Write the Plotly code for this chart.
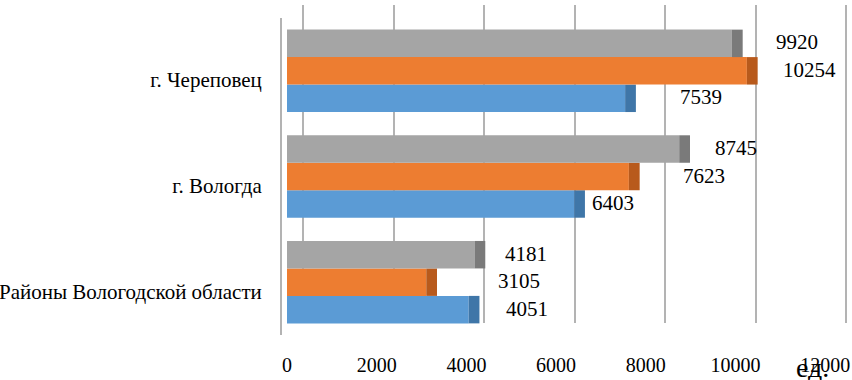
import plotly.graph_objects as go

categories = ["Районы Вологодской области", "г. Вологда", "г. Череповец"]
series_blue = [4051, 6403, 7539]
series_orange = [3105, 7623, 10254]
series_gray = [4181, 8745, 9920]
tick_vals = [0, 2000, 4000, 6000, 8000, 10000, 12000]
tick_text = ["0", "2000", "4000", "6000", "8000", "10000", "12000"]
unit_label = "ед."

# pixel nudges of the value labels to the right of each bar end (styling)
label_nudge_blue = [35, 16, 53]
label_nudge_orange = [70, 52, 34]
label_nudge_gray = [28, 34, 42]

FONT = "'Liberation Serif', 'DejaVu Serif', serif"
DEPTH = 240  # visual depth of the pseudo-3D end cap

series = [
    ("s1", series_blue, "#5b9bd5", "#3f76a8", label_nudge_blue),
    ("s2", series_orange, "#ed7d31", "#b85a1c", label_nudge_orange),
    ("s3", series_gray, "#a5a5a5", "#7a7a7a", label_nudge_gray),
]

fig = go.Figure()
# empty trace so the back-wall grid subplot is registered
fig.add_trace(go.Scatter(x=[], y=[], xaxis="x", yaxis="y",
                         showlegend=False, hoverinfo="skip"))
for name, vals, col, dark, _ in series:
    fig.add_trace(go.Bar(
        y=categories, x=vals, orientation="h", name=name,
        marker=dict(color=col, line=dict(width=0)),
        offsetgroup=name, xaxis="x2", yaxis="y2", showlegend=False,
    ))
    fig.add_trace(go.Bar(
        y=categories, x=[DEPTH] * len(vals), base=vals, orientation="h",
        marker=dict(color=dark, line=dict(width=0)),
        offsetgroup=name, xaxis="x2", yaxis="y2", showlegend=False,
        hoverinfo="skip",
    ))

# value labels
bar_w = 0.78 / 3
offsets = [-bar_w, 0, bar_w]
annotations = []
for (name, vals, col, dark, nudges), off in zip(series, offsets):
    for i, v in enumerate(vals):
        annotations.append(dict(
            x=v, y=i + off, xref="x2", yref="y2", text=str(v),
            showarrow=False, xanchor="left", yanchor="middle",
            xshift=nudges[i], yshift=1,
            font=dict(family=FONT, size=21, color="#000000"),
        ))

annotations.append(dict(
    x=(794 - 282) / 570, y=1 - 350 / 380, xref="paper", yref="paper",
    text=unit_label, showarrow=False, xanchor="left", yanchor="top",
    font=dict(family=FONT, size=28, color="#000000"),
))

# front axis: 0 at 287px, 0.04485 px per unit, plot spans 282..852 px
front_range = [(282 - 287) / 0.04485, (852 - 287) / 0.04485]
back_range = [(282 - 303) / 0.04525, (852 - 303) / 0.04525]

fig.update_layout(
    width=852, height=380,
    font=dict(family=FONT, size=20, color="#000000"),
    margin=dict(l=282, r=0, t=0, b=0, autoexpand=False),
    paper_bgcolor="white", plot_bgcolor="rgba(0,0,0,0)",
    barmode="group", bargap=0.22, bargroupgap=0,
    annotations=annotations,
    # back wall grid subplot
    xaxis=dict(domain=[0, 1], anchor="y", range=back_range,
               tickvals=tick_vals, showticklabels=False, showgrid=True,
               gridcolor="#b3b3b3", gridwidth=2, zeroline=False,
               showline=False, ticks="", automargin=False),
    yaxis=dict(domain=[1 - 323 / 380, 1 - 5 / 380], anchor="x",
               range=[0, 1], showgrid=False, showticklabels=False,
               zeroline=False, showline=False, ticks="", automargin=False),
    # bars subplot
    xaxis2=dict(domain=[0, 1], anchor="y2", range=front_range,
                tickvals=tick_vals, ticktext=tick_text, showgrid=False,
                zeroline=False, showline=False, ticks="outside",
                ticklen=12, tickcolor="rgba(0,0,0,0)", automargin=False,
                tickfont=dict(family=FONT, size=20, color="#000000")),
    yaxis2=dict(domain=[1 - 335 / 380, 1 - 18 / 380], anchor="x2",
                type="category", categoryorder="array",
                categoryarray=categories, range=[-0.5, 2.5],
                showgrid=False, zeroline=False, showline=True,
                linecolor="#b3b3b3", linewidth=2, automargin=False,
                ticks="outside", ticklen=14, tickcolor="rgba(0,0,0,0)",
                ticklabelshift=9,
                tickfont=dict(family=FONT, size=21, color="#000000")),
)

fig.write_html(
    "out.html",
    config={"displayModeBar": False},
    post_script="document.body.style.margin='0';",
)
